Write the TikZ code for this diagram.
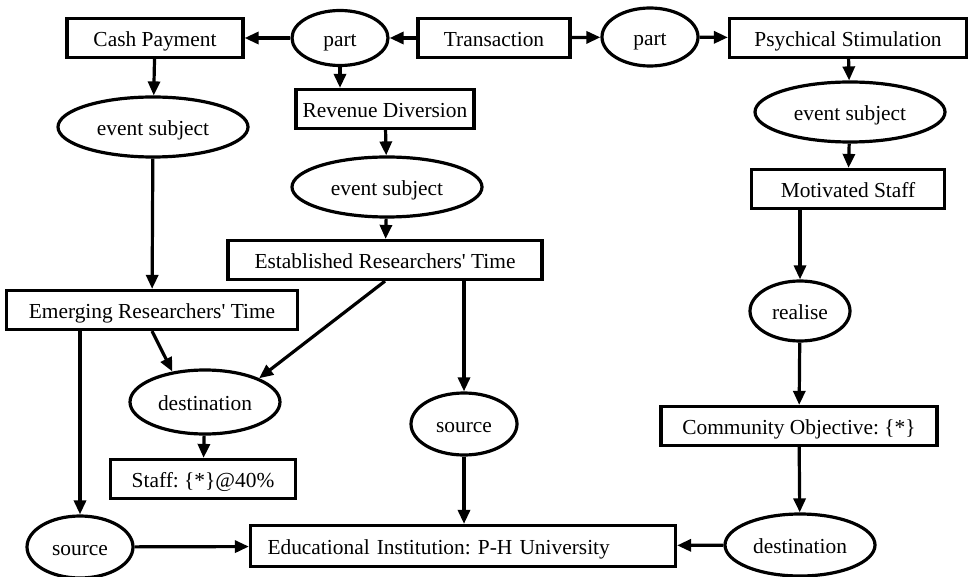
\documentclass[tikz,border=0pt]{standalone}
\usepackage{fontspec}
\setmainfont{Liberation Serif}
\usepackage{tikz}
\usetikzlibrary{shapes.geometric, arrows.meta}
\frenchspacing
\tikzstyle{concept}=[rectangle, draw=black, line width=1.6pt, minimum height=19.5pt, inner sep=0pt, text height=8.2pt, text depth=0pt, font=\fontsize{10.7}{12}\selectfont]
\tikzstyle{relation}=[ellipse, draw=black, line width=1.6pt, inner sep=0pt, text height=8.2pt, text depth=0pt, font=\fontsize{10.7}{12}\selectfont]
\tikzstyle{link}=[line width=1.6pt, -{Triangle[length=7pt,width=6pt]}]

\begin{document}
\begin{tikzpicture}[x=0.5pt, y=-0.5pt]
			\useasboundingbox (0,0) rectangle (968,577);
			% top row
			\node[concept, minimum width=76pt] (trans) at (494,38) {Transaction};
			\node[relation, minimum width=48pt, minimum height=27.5pt] (partL) at (340,38) {part};
			\node[concept, minimum width=88pt] (cash) at (155,38) {Cash Payment};
			\node[relation, minimum width=48pt, minimum height=29pt] (partR) at (650,37) {part};
			\node[concept, minimum width=118.5pt] (psych) at (848,38) {Psychical Stimulation};
			% left column
			\node[relation, minimum width=95pt, minimum height=30pt] (evsubL) at (153,127) {event subject};
			\node[concept, minimum width=145.5pt] (emerg) at (152,310) {Emerging Researchers\textquotesingle{} Time};
			\node[relation, minimum width=75pt, minimum height=32pt] (destL) at (205,402) {destination};
			\node[concept, minimum width=92.5pt] (staff) at (203,479) {Staff: \{*\}@40\%};
			\node[relation, minimum width=53pt, minimum height=31pt] (srcL) at (80,547) {source};
			% middle column
			\node[concept, minimum width=89pt] (revdiv) at (385,109) {Revenue Diversion};
			\node[relation, minimum width=95pt, minimum height=30pt] (evsubM) at (387,187) {event subject};
			\node[concept, minimum width=157pt] (estab) at (385,260) {Established Researchers\textquotesingle{} Time};
			\node[relation, minimum width=53pt, minimum height=31pt] (srcM) at (464,424) {source};
			\node[concept, minimum height=20.5pt, text width=195.5pt, inner xsep=8.5pt, align=left] (eduinst) at (463,546) {Educational Institution: P-H University};
			% right column
			\node[relation, minimum width=95pt, minimum height=30pt] (evsubR) at (850,112) {event subject};
			\node[concept, minimum width=96.5pt] (motiv) at (848,189) {Motivated Staff};
			\node[relation, minimum width=50pt, minimum height=30pt] (realise) at (800,311) {realise};
			\node[concept, minimum width=138pt] (commun) at (799,426) {Community Objective: \{*\}};
			\node[relation, minimum width=75pt, minimum height=31pt] (destR) at (800,545) {destination};

			\draw[link] (trans) -- (partL);
			\draw[link] (partL) -- (cash);
			\draw[link] (partL) -- (partL |- revdiv.north);
			\draw[link] (trans) -- (partR);
			\draw[link] (partR) -- (psych);
			\draw[link] (cash) -- (evsubL);
			\draw[link] (evsubL) -- (emerg);
			\draw[link] (revdiv) -- (evsubM);
			\draw[link] (evsubM) -- (estab);
			\draw[link] (psych) -- (evsubR);
			\draw[link] (evsubR) -- (motiv);
			\draw[link] (realise |- motiv.south) -- (realise);
			\draw[link] (realise) -- (commun);
			\draw[link] (commun) -- (destR);
			\draw[link] (destR) -- (eduinst);
			\draw[link] (estab.south) -- (destL.north east);
			\draw[link] (estab.south -| srcM) -- (srcM);
			\draw[link] (emerg.south) -- (destL.137);
			\draw[link] (emerg.south -| srcL) -- (srcL);
			\draw[link] (destL) -- (staff);
			\draw[link] (srcM) -- (srcM |- eduinst.north);
			\draw[link] (srcL) -- (eduinst);
		\end{tikzpicture}
\end{document}
